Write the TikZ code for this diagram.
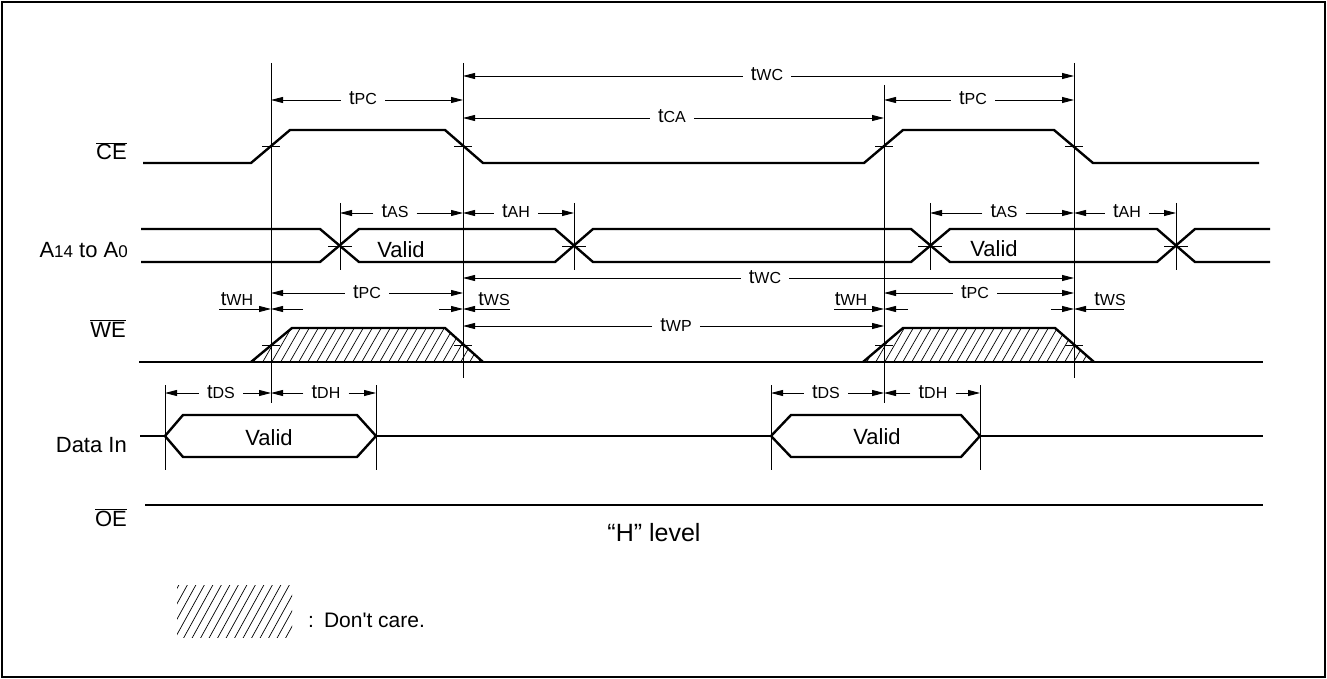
\documentclass[tikz,border=0pt]{standalone}
\usepackage{fontspec}
\setmainfont{Liberation Sans}[Ligatures=TeXOff]
\usetikzlibrary{arrows.meta}
\newcommand{\tm}[1]{{\fontsize{20}{20}\selectfont t}{\fontsize{16}{16}\selectfont #1}}
\newcommand{\ovl}[1]{$\overline{\mbox{#1}}$}
\newcommand{\dimA}[6]{%
  \node[tlab] (#1) at (#4,#5+5) {\tm{#6}};
  \coordinate (#1l) at (#2,#5);
  \coordinate (#1r) at (#3,#5);
  \draw[dim] (#1.west |- #1l) -- (#1l);
  \draw[dim] (#1.east |- #1r) -- (#1r);}
\begin{document}
\begin{tikzpicture}[x=1pt,y=-1pt,
  sig/.style={line width=2.4pt,line join=miter},
  guide/.style={line width=0.9pt},
  dim/.style={line width=0.9pt,-{Triangle[length=12pt,width=6pt]}},
  tlab/.style={anchor=base,inner xsep=8pt,inner ysep=0pt},
  lab/.style={anchor=base east,inner sep=0pt,font=\fontsize{22}{26}\selectfont},
  txt/.style={anchor=base,inner sep=0pt,font=\fontsize{22}{26}\selectfont},
  hatch/.style={line width=0.7pt},
  tick/.style={line width=0.9pt}]
\useasboundingbox (0,0) rectangle (1327,679);
\draw[line width=2.2pt] (2,2) rectangle (1325,677);

% signal labels
\node[lab] (lce) at (127,160) {\ovl{CE}};
\node[lab] (la) at (128,257) {A{\fontsize{17}{17}\selectfont 14} to A{\fontsize{17}{17}\selectfont 0}};
\node[lab] (lwe) at (126,337) {\ovl{WE}};
\node[lab] (ld) at (127,452) {Data In};
\node[lab] (loe) at (127,526) {\ovl{OE}};

% guide lines
\draw[guide] (271,63) -- (271,403);
\draw[guide] (463,63) -- (463,378);
\draw[guide] (884,85) -- (884,403);
\draw[guide] (1074,63) -- (1074,378);
\foreach \x in {165,376,771,980} \draw[guide] (\x,385) -- (\x,470);
\foreach \x in {340,574,930,1176} {
  \draw[guide] (\x,203) -- (\x,270);
  \draw[tick] (\x-12,246) -- (\x+12,246);}

% CE
\draw[sig] (143,163) -- (251,163) -- (290,130) -- (445,130) -- (483,163) -- (864,163) -- (903,130) -- (1054,130) -- (1093,163) -- (1259,163);
\foreach \x in {271,463,884,1074} \draw[tick] (\x-9,146.5) -- (\x+9,146.5);

% Address bus
\draw[sig] (141,229) -- (320,229) -- (359,262) -- (555,262) -- (593,229) -- (911,229) -- (950,262) -- (1157,262) -- (1195,229) -- (1270,229);
\draw[sig] (141,262) -- (320,262) -- (359,229) -- (555,229) -- (593,262) -- (911,262) -- (950,229) -- (1157,229) -- (1195,262) -- (1270,262);
\node[txt] (av1) at (401,257) {Valid};
\node[txt] (av2) at (994,256) {Valid};

% WE
\begin{scope}
  \clip (251,362) -- (292,328) -- (445,328) -- (483,362) -- cycle;
  \foreach \x in {225,234,...,490} \draw[hatch] (\x,365) -- ++(23,-40);
\end{scope}
\begin{scope}
  \clip (863,362) -- (903,328) -- (1055,328) -- (1094,362) -- cycle;
  \foreach \x in {838,847,...,1100} \draw[hatch] (\x,365) -- ++(23,-40);
\end{scope}
\draw[sig] (139,362) -- (1263,362);
\draw[sig] (251,362) -- (292,328) -- (445,328) -- (483,362);
\draw[sig] (863,362) -- (903,328) -- (1055,328) -- (1094,362);
\foreach \x in {271,463,884,1074} \draw[tick] (\x-9,345) -- (\x+9,345);

% Data In
\draw[sig] (140,436) -- (165,436);
\draw[sig] (165,436) -- (183,415) -- (357,415) -- (376,436) -- (357,457) -- (183,457) -- cycle;
\draw[sig] (376,436) -- (771,436);
\draw[sig] (771,436) -- (791,415) -- (961,415) -- (980,436) -- (961,457) -- (791,457) -- cycle;
\draw[sig] (980,436) -- (1263,436);
\node[txt] (dv1) at (269,445) {Valid};
\node[txt] (dv2) at (877,444) {Valid};

% OE
\draw[sig] (145,505) -- (1263,505);
\node[txt,font=\fontsize{25}{30}\selectfont] (hl) at (654,541) {“H” level};

% timing dimensions
\dimA{tpca}{271}{463}{363}{100}{PC}
\dimA{twca}{463}{1074}{767}{76}{WC}
\dimA{tca}{463}{884}{672}{118}{CA}
\dimA{tpcb}{884}{1074}{973}{100}{PC}
\dimA{tasa}{340}{463}{395}{213}{AS}
\dimA{taha}{463}{574}{516}{213}{AH}
\dimA{tasb}{930}{1074}{1004}{213}{AS}
\dimA{tahb}{1074}{1176}{1127}{213}{AH}
\dimA{twcb}{463}{1074}{765}{278}{WC}
\dimA{tpcc}{271}{463}{367}{293}{PC}
\dimA{tpcd}{884}{1074}{975}{293}{PC}
\dimA{twp}{463}{884}{676}{326}{WP}
\dimA{tdsa}{165}{271}{221}{393}{DS}
\dimA{tdha}{271}{376}{326}{393}{DH}
\dimA{tdsb}{771}{884}{826}{393}{DS}
\dimA{tdhb}{884}{980}{933}{393}{DH}

% tWH / tWS
\node[tlab,inner xsep=0pt] (twha) at (237,305) {\tm{WH}};
\coordinate (twha1) at (219,309); \coordinate (twha2) at (303,309); \coordinate (g1) at (271,309);
\draw[dim] (twha1) -- (g1); \draw[dim] (twha2) -- (g1);
\node[tlab,inner xsep=0pt] (twsa) at (494,305) {\tm{WS}};
\coordinate (twsa1) at (439,309); \coordinate (twsa2) at (510,309); \coordinate (g2) at (463,309);
\draw[dim] (twsa1) -- (g2); \draw[dim] (twsa2) -- (g2);
\node[tlab,inner xsep=0pt] (twhb) at (851,305) {\tm{WH}};
\coordinate (twhb1) at (834,309); \coordinate (twhb2) at (908,309); \coordinate (g3) at (884,309);
\draw[dim] (twhb1) -- (g3); \draw[dim] (twhb2) -- (g3);
\node[tlab,inner xsep=0pt] (twsb) at (1110,305) {\tm{WS}};
\coordinate (twsb1) at (1051,309); \coordinate (twsb2) at (1124,309); \coordinate (g4) at (1074,309);
\draw[dim] (twsb1) -- (g4); \draw[dim] (twsb2) -- (g4);

% legend
\begin{scope}
  \clip (177,585) rectangle (292,637);
  \foreach \x in {140,148.5,...,300} \draw[hatch] (\x,640) -- ++(32,-58);
\end{scope}
\node[txt,anchor=base west,font=\fontsize{21}{25}\selectfont] (dc) at (308,627) {:\hspace{10pt}Don't care.};
\end{tikzpicture}
\end{document}
